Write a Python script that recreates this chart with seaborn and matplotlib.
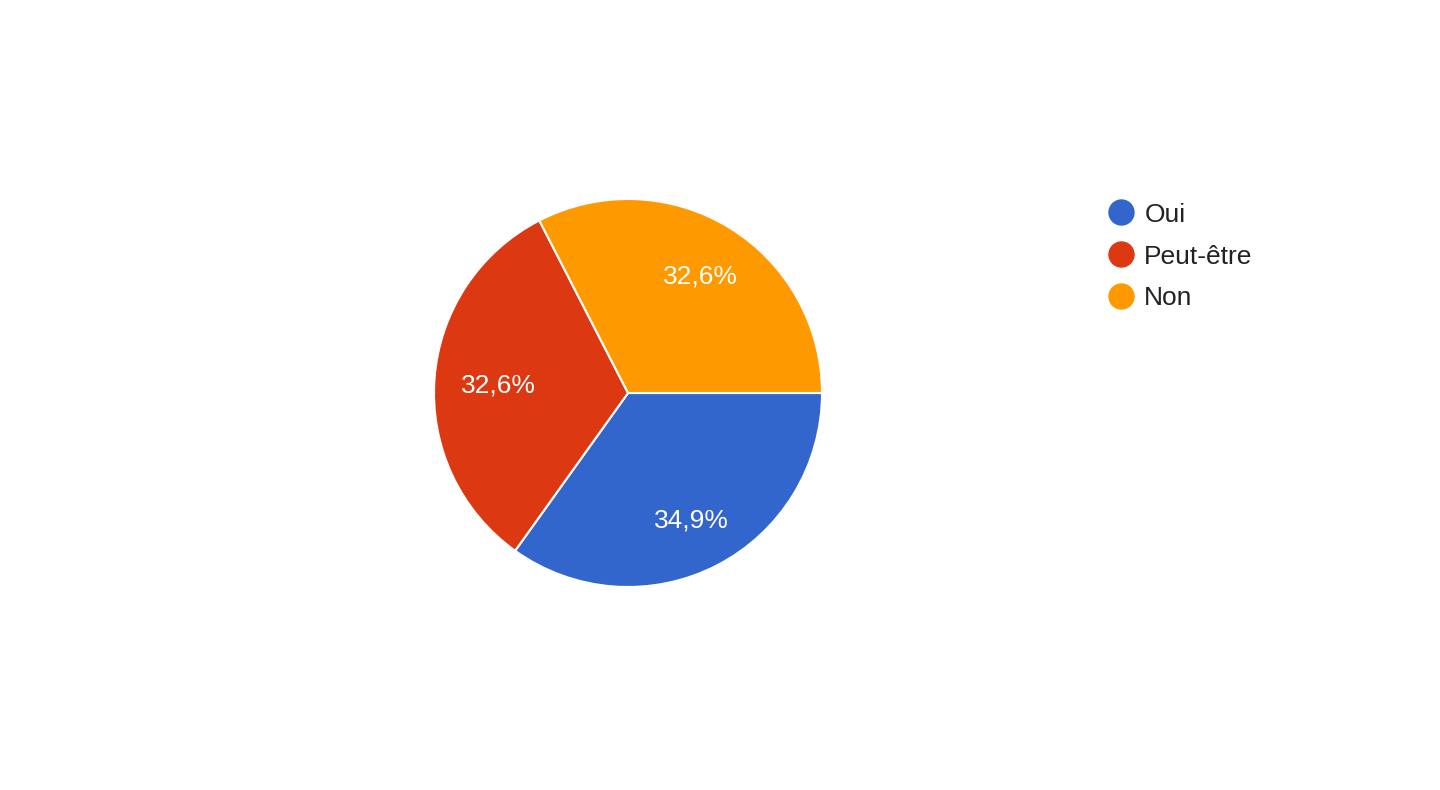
import matplotlib
matplotlib.use("Agg")
import matplotlib.pyplot as plt
from matplotlib.lines import Line2D
import seaborn as sns

# réponses (43 au total)
labels = ["Oui", "Peut-être", "Non"]
counts = [15, 14, 14]
colors = ["#3366CC", "#DC3912", "#FF9900"]

sns.set_theme(style="white")
plt.rcParams['font.family'] = ['Liberation Sans', 'DejaVu Sans']

fig = plt.figure(figsize=(14.4, 7.9), dpi=100)
fig.patch.set_facecolor("white")
ax = fig.add_axes([434 / 1440, 203 / 790, 388 / 1440, 388 / 790])

def fmt_pct(p):
    return f"{p:.1f}%".replace(".", ",")

wedges, _, autotexts = ax.pie(
    counts, colors=colors, startangle=0, counterclock=False,
    autopct=fmt_pct, pctdistance=0.72, radius=1,
    wedgeprops=dict(edgecolor="white", linewidth=1.5),
    textprops=dict(color="white", fontsize=19),
)
# petit décalage vers le bas comme dans l'original
for t in autotexts:
    x, y = t.get_position()
    t.set_position((x, y - 0.015))
# l'étiquette de gauche est un peu plus vers l'intérieur
x, y = autotexts[1].get_position()
autotexts[1].set_position((x + 0.05, y))

ax.set_xlim(-1, 1)
ax.set_ylim(-1, 1)
ax.axis("off")

handles = [Line2D([0], [0], marker="o", linestyle="", markersize=18,
                  markerfacecolor=c, markeredgecolor=c) for c in colors]
fig.legend(handles, labels, loc="upper left", bbox_to_anchor=(1095 / 1440, 1 - 192 / 790),
           frameon=False, fontsize=19, labelspacing=0.68, handletextpad=0.27,
           handlelength=1.2, borderaxespad=0, labelcolor="#222222")

fig.savefig("out.png", dpi=100, facecolor="white")
